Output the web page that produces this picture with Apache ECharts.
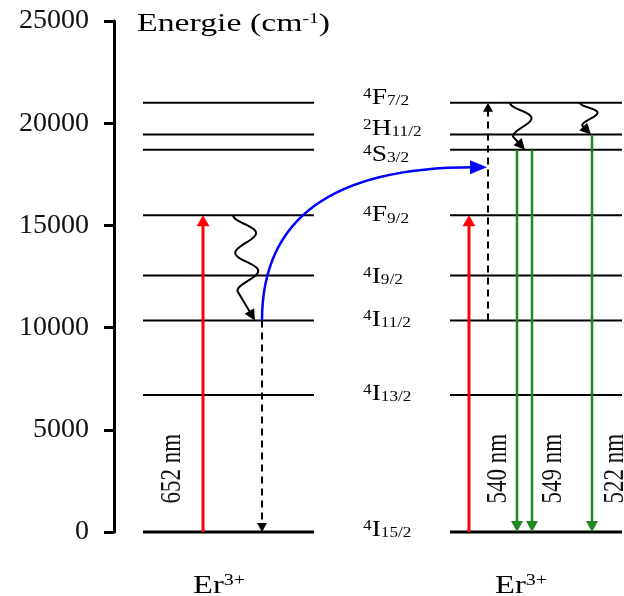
<!DOCTYPE html>
<html>
<head>
<meta charset="UTF-8">
<title></title>
<style>html,body{margin:0;padding:0;background:#fff}</style>
</head>
<body>
<div id="main" style="width:624px;height:596px"></div>
<script src="https://cdn.jsdelivr.net/npm/echarts@6/dist/echarts.min.js"></script>
<script type="text/javascript">
// ---- data ----
var levelNames = ['4I15/2', '4I13/2', '4I11/2', '4I9/2', '4F9/2', '4S3/2', '2H11/2', '4F7/2'];
var levelEnergy = [0, 6700, 10350, 12550, 15500, 18700, 19450, 21000];
var energyTicks = [0, 5000, 10000, 15000, 20000, 25000];
var transferEnergy = 17850;          // where the blue transfer arrow lands
var pumpName = '652 nm';
var emissionNames = ['540 nm', '549 nm', '522 nm'];
var ionName = 'Er3+';

// transitions as [from level, to level]
var leftPump = [0, 4];
var leftRelax = [4, 2];
var leftDecay = [2, 0];
var rightPump = [0, 4];
var rightUpconv = [2, 7];
var rightRelax = [[7, 5], [7, 6]];
var greenEmission = [[5, 0], [5, 0], [6, 0]];

// ---- layout (x in axis units, grid spans 0..510) ----
var X = {
	left: [29, 200], right: [336, 508],
	leftPump: 89, leftRelax: [119, 141], leftDecay: 148,
	rightPump: 355, rightUpconv: 374, rightRelax: [[396, 411], [466, 477]],
	green: [403, 418, 478],
	names: 249,
	pumpText: 58, greenText: [384, 439, 501]
};
var TEXT_E = 3100;
var NAME_NUDGE = [-2, -1, -1, 1, 0, 5, -6, -5];
var SERIF = '"Liberation Serif", "Times New Roman", serif';

var KINDS = ['pump', 'dash', 'green', 'wavy', 'transfer'];
var ARROW = {
	pump: { color: '#ff0000', width: 3, head: [11, 6.5] },
	dash: { color: '#000', width: 2, head: [9, 5], dash: [7, 5] },
	green: { color: '#1f8a1f', width: 2.5, head: [11, 6] },
	wavy: { color: '#000', width: 2, head: [11, 5.5] },
	transfer: { color: '#0000ff', width: 2.5, head: [17, 7] }
};

var E = levelEnergy;
var arrows = [
	[X.leftPump, E[leftPump[0]], X.leftPump, E[leftPump[1]], 0],
	[X.leftRelax[0], E[leftRelax[0]], X.leftRelax[1], E[leftRelax[1]], 3],
	[X.leftDecay, E[leftDecay[0]], X.leftDecay, E[leftDecay[1]], 1],
	[X.leftDecay, E[leftDecay[0]], X.rightUpconv - 1, transferEnergy, 4],
	[X.rightPump, E[rightPump[0]], X.rightPump, E[rightPump[1]], 0],
	[X.rightUpconv, E[rightUpconv[0]], X.rightUpconv, E[rightUpconv[1]], 1]
];
rightRelax.forEach(function(t, i) {
	arrows.push([X.rightRelax[i][0], E[t[0]], X.rightRelax[i][1], E[t[1]], 3]);
});
greenEmission.forEach(function(t, i) {
	arrows.push([X.green[i], E[t[0]], X.green[i], E[t[1]], 2]);
});

var levels = [];
levelEnergy.forEach(function(e, i) {
	levels.push([X.left[0], e, X.left[1], i]);
	levels.push([X.right[0], e, X.right[1], i]);
});

function head(tip, from, st) {
	var dx = tip[0] - from[0], dy = tip[1] - from[1];
	var d = Math.sqrt(dx * dx + dy * dy) || 1;
	dx /= d; dy /= d;
	var len = st.head[0], half = st.head[1];
	var bx = tip[0] - dx * len, by = tip[1] - dy * len;
	return {
		type: 'polygon',
		shape: { points: [[tip[0], tip[1]], [bx - dy * half, by + dx * half], [bx + dy * half, by - dx * half]] },
		style: { fill: st.color }
	};
}

function shaftEnd(tip, from, st) {
	var dx = tip[0] - from[0], dy = tip[1] - from[1];
	var d = Math.sqrt(dx * dx + dy * dy) || 1;
	return [tip[0] - dx / d * st.head[0] * 0.8, tip[1] - dy / d * st.head[0] * 0.8];
}

function renderArrow(params, api) {
	var p0 = api.coord([api.value(0), api.value(1)]);
	var p1 = api.coord([api.value(2), api.value(3)]);
	var kind = KINDS[api.value(4)];
	var st = ARROW[kind];
	var kids = [];
	if (kind === 'transfer') {
		var from = [p1[0] - 10, p1[1]];
		var end = shaftEnd(p1, from, st);
		kids.push({
			type: 'bezierCurve',
			shape: { x1: p0[0], y1: p0[1], x2: end[0], y2: end[1], cpx1: p0[0], cpy1: p1[1] },
			style: { stroke: st.color, lineWidth: st.width, fill: 'none' }
		});
		kids.push(head(p1, from, st));
	} else if (kind === 'wavy') {
		// wiggly non-radiative relaxation
		var span = Math.abs(p1[1] - p0[1]);
		var cyc = span > 70 ? 2 : 1;
		var amp = span > 70 ? 11 : Math.min(10, span * 0.26);
		var w = [p0[0] + 0.2 * (p1[0] - p0[0]), p0[1] + 0.72 * (p1[1] - p0[1])];
		var ux = w[0] - p0[0], uy = w[1] - p0[1];
		var ul = Math.sqrt(ux * ux + uy * uy);
		var rx = uy / ul, ry = -ux / ul;
		var pts = [];
		for (var i = 0; i <= 48; i++) {
			var t = i / 48;
			var off = amp * (1 - Math.cos(2 * Math.PI * cyc * t));
			pts.push([p0[0] + ux * t + rx * off, p0[1] + uy * t + ry * off]);
		}
		pts.push(shaftEnd(p1, w, st));
		kids.push({ type: 'polyline', shape: { points: pts }, style: { stroke: st.color, lineWidth: st.width, fill: 'none' } });
		kids.push(head(p1, w, st));
	} else {
		var e2 = shaftEnd(p1, p0, st);
		kids.push({
			type: 'line',
			shape: { x1: p0[0], y1: p0[1], x2: e2[0], y2: e2[1] },
			style: { stroke: st.color, lineWidth: st.width, lineDash: st.dash || null }
		});
		kids.push(head(p1, p0, st));
	}
	return { type: 'group', children: kids };
}

var TERM_RICH = {
	sup: { fontFamily: SERIF, fontSize: 15, lineHeight: 15, verticalAlign: 'top', color: '#111' },
	m: { fontFamily: SERIF, fontSize: 24, lineHeight: 22, verticalAlign: 'middle', color: '#111' },
	sub: { fontFamily: SERIF, fontSize: 15, lineHeight: 15, verticalAlign: 'bottom', color: '#111' }
};

var myChart = echarts.init(document.getElementById('main'));
var option = {
	animation: false,
	backgroundColor: '#fff',
	grid: { left: 114, right: 0, top: 21, bottom: 64 },
	xAxis: { type: 'value', min: 0, max: 510, show: false },
	yAxis: {
		type: 'value', min: energyTicks[0], max: energyTicks[energyTicks.length - 1], interval: 5000,
		axisLine: { show: true, lineStyle: { color: '#000', width: 3 } },
		axisTick: { show: true, length: 10, lineStyle: { color: '#000', width: 3 } },
		splitLine: { show: false },
		axisLabel: {
			fontFamily: SERIF, fontSize: 28, color: '#111', margin: 25,
			formatter: function(v) { return String(v); }
		}
	},
	graphic: [
		{ type: 'text', x: 137, y: 24, scaleX: 1.3, silent: true,
			style: { text: '{m|Energie (cm}{sup|-1}{m|)}', align: 'left', verticalAlign: 'middle',
				rich: {
					m: { fontFamily: SERIF, fontSize: 26, lineHeight: 24, color: '#111' },
					sup: { fontFamily: SERIF, fontSize: 15, lineHeight: 15, verticalAlign: 'top', color: '#111' }
				} } }
	].concat([219, 521].map(function(x) {
		return { type: 'text', x: x, y: 586, scaleX: 1.25, silent: true,
			style: { text: '{m|' + ionName.slice(0, 2) + '}{sup|' + ionName.slice(2) + '}', align: 'center', verticalAlign: 'middle',
				rich: {
					m: { fontFamily: SERIF, fontSize: 26, lineHeight: 26, color: '#111' },
					sup: { fontFamily: SERIF, fontSize: 16, lineHeight: 16, verticalAlign: 'top', color: '#111' }
				} } };
	})),
	series: [{
		type: 'custom', name: 'levels', silent: true,
		data: levels,
		renderItem: function(params, api) {
			var a = api.coord([api.value(0), api.value(1)]);
			var b = api.coord([api.value(2), api.value(1)]);
			return {
				type: 'line',
				shape: { x1: a[0], y1: a[1], x2: b[0], y2: b[1] },
				style: { stroke: '#000', lineWidth: api.value(3) === 0 ? 3 : 2 }
			};
		}
	}, {
		type: 'custom', name: 'transitions', silent: true,
		data: arrows,
		renderItem: renderArrow
	}, {
		type: 'custom', name: 'terms', silent: true,
		data: levelEnergy.map(function(e) { return [X.names, e]; }),
		renderItem: function(params, api) {
			var i = params.dataIndex;
			var p = api.coord([api.value(0), api.value(1)]);
			var n = levelNames[i];
			return {
				type: 'text', x: p[0], y: p[1] + NAME_NUDGE[i], scaleX: 1.15,
				style: { text: '{sup|' + n[0] + '}{m|' + n[1] + '}{sub|' + n.slice(2) + '}', rich: TERM_RICH, align: 'left', verticalAlign: 'middle' }
			};
		}
	}, {
		type: 'custom', name: 'wavelengths', silent: true,
		data: [[X.pumpText, TEXT_E]].concat(X.greenText.map(function(x) { return [x, TEXT_E]; })),
		renderItem: function(params, api) {
			var p = api.coord([api.value(0), api.value(1)]);
			var txt = params.dataIndex === 0 ? pumpName : emissionNames[params.dataIndex - 1];
			return {
				type: 'text', x: p[0], y: p[1], rotation: Math.PI / 2, scaleY: 1.3,
				style: { text: txt, fontFamily: SERIF, fontSize: 23, fill: '#111', align: 'center', verticalAlign: 'middle' }
			};
		}
	}]
};
myChart.setOption(option);
</script>
</body>
</html>
